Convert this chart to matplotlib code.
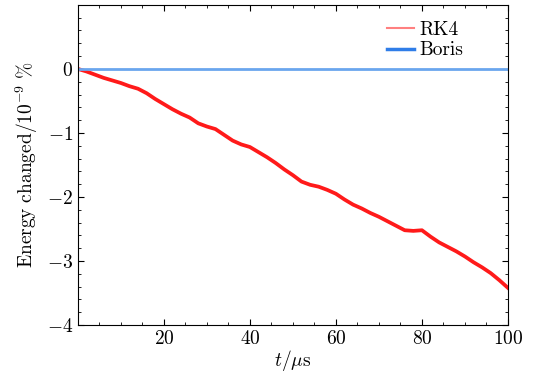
import numpy as np
import matplotlib
matplotlib.use('Agg')
import matplotlib.pyplot as plt
from matplotlib.ticker import MultipleLocator

plt.rcParams['font.family'] = 'serif'
plt.rcParams['font.serif'] = ['cmr10']
plt.rcParams['mathtext.fontset'] = 'cm'
plt.rcParams['axes.formatter.use_mathtext'] = True

# RK4 energy drift (units of 1e-9 %)
t_rk4 = [0, 2, 4, 6, 8, 10, 12, 14, 16, 18, 20, 22, 24, 26, 28, 30, 32, 34, 36, 38,
         40, 42, 44, 46, 48, 50, 52, 54, 56, 58, 60, 62, 64, 66, 68, 70, 72, 74, 76, 78,
         80, 82, 84, 86, 88, 90, 92, 94, 96, 98, 100]
e_rk4 = [0.0, -0.04, -0.09, -0.14, -0.18, -0.22, -0.27, -0.31, -0.38, -0.47,
         -0.55, -0.63, -0.70, -0.76, -0.85, -0.90, -0.94, -1.03, -1.12, -1.18,
         -1.22, -1.30, -1.38, -1.47, -1.57, -1.66, -1.76, -1.81, -1.84, -1.89,
         -1.95, -2.04, -2.12, -2.18, -2.25, -2.31, -2.38, -2.45, -2.52, -2.53,
         -2.52, -2.62, -2.71, -2.78, -2.85, -2.93, -3.02, -3.10, -3.19, -3.30, -3.42]
t_boris = [0, 100]
e_boris = [0.0, 0.0]

fig = plt.figure(figsize=(5.33, 3.74), dpi=100)
ax = fig.add_axes([0.146, 0.131, 0.807, 0.856])

ax.plot(t_rk4, e_rk4, color='#ff1a1a', lw=2.7, label='RK4')
ax.plot(t_boris, e_boris, color='#6aa6ee', lw=2.0, label='Boris')

ax.set_xlim(0, 100)
ax.set_ylim(-4, 1)
ax.set_xticks([20, 40, 60, 80, 100])
ax.set_yticks([-4, -3, -2, -1, 0])
ax.xaxis.set_minor_locator(MultipleLocator(5))
ax.yaxis.set_minor_locator(MultipleLocator(0.2))
ax.tick_params(which='both', direction='in', top=True, right=True, labelsize=14)
ax.tick_params(which='major', length=4)
ax.tick_params(which='minor', length=2)

ax.set_xlabel(r'$t/\mathrm{\mu s}$', fontsize=14, labelpad=0)
ax.set_ylabel(r'$\mathrm{Energy\ changed}/10^{-9}\ \%$', fontsize=14, labelpad=5)

leg = ax.legend(loc='upper right', bbox_to_anchor=(0.915, 0.975), frameon=False,
                fontsize=14, handlelength=1.4, borderaxespad=0, labelspacing=0.15,
                handletextpad=0.3)
leg.get_lines()[0].set_color('#ff8080')
leg.get_lines()[0].set_linewidth(1.5)
leg.get_lines()[1].set_color('#2f7de8')
leg.get_lines()[1].set_linewidth(2.5)

fig.savefig('out.png', dpi=100)
